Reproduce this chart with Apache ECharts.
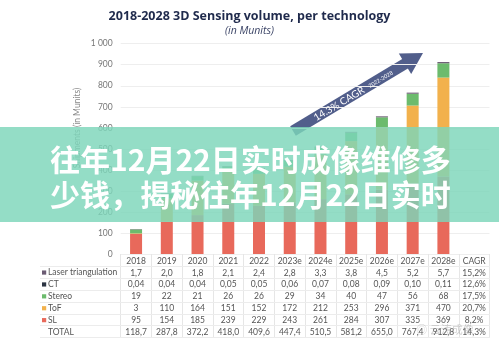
<!DOCTYPE html>
<html><head><meta charset="utf-8">
<script src="https://cdn.jsdelivr.net/npm/echarts@6/dist/echarts.min.js"></script>
<style>html,body{margin:0;padding:0;background:#fff}#c{width:499px;height:351px}</style>
</head><body><div id="c"></div>
<script>
const categories = ['2018','2019','2020','2021','2022','2023e','2024e','2025e','2026e','2027e','2028e','CAGR'];
const laser  = [1.7, 2.0, 1.8, 2.1, 2.4, 2.8, 3.3, 3.8, 4.5, 5.2, 5.7];
const ct     = [0.04, 0.04, 0.04, 0.05, 0.05, 0.06, 0.07, 0.08, 0.09, 0.10, 0.11];
const stereo = [19, 22, 21, 26, 26, 29, 34, 40, 47, 56, 68];
const tof    = [3, 110, 164, 151, 152, 172, 212, 253, 296, 371, 470];
const sl     = [95, 154, 185, 239, 229, 243, 261, 284, 307, 335, 369];
const total  = [118.7, 287.8, 372.2, 418.0, 409.6, 447.4, 510.5, 581.2, 655.0, 767.4, 912.8];
const cagr   = ['15,2%', '12,6%', '17,5%', '20,7%', '8,2%', '14,3%'];
const yTicks = [0, 100, 200, 300, 400, 500, 600, 700, 800, 900, 1000];
const rowNames = ['Laser triangulation', 'CT', 'Stereo', 'ToF', 'SL', 'TOTAL'];
const colors = {SL:'#e8695b', ToF:'#f2b14c', Stereo:'#6cbb6d', CT:'#2c3442', 'Laser triangulation':'#6b5b73'};

const fmt = (v, d) => v.toFixed(d).replace('.', ',');

const chart = echarts.init(document.getElementById('c'));
const FONT = 'Lato';
const mk = (name, data) => ({
  name, type:'bar', stack:'a', data, barWidth:12,
  itemStyle:{color:colors[name]}, emphasis:{disabled:true}
});

const rowTop = 254.5, rowH = 11.9, tLeft = 40, tRight = 490;
const graphics = [];
for (let i = 1; i <= 7; i++) {
  const y = Math.round(rowTop + rowH * i + 0.5) - 0.5;
  graphics.push({type:'line', shape:{x1:tLeft, y1:y, x2:tRight, y2:y}, style:{stroke:'#ececec', lineWidth:1}, silent:true, z:1});
}
rowNames.forEach((n, i) => {
  const cy = rowTop + rowH * (i + 1) + rowH / 2 + 0.3;
  if (colors[n]) graphics.push({type:'rect', shape:{x:42, y:cy-2.2, width:4.2, height:4.2}, style:{fill:colors[n]}, silent:true, z:5});
  graphics.push({type:'text', x:48, y:cy, style:{text:n, fill:'#555', font:'8.5px ' + FONT, textVerticalAlign:'middle'}, silent:true, z:5});
});
graphics.push({type:'text', x:77, y:128, rotation:Math.PI/2, style:{text:'Shipments (in Munits)', fill:'#888', font:'8.5px ' + FONT, textAlign:'center', textVerticalAlign:'middle'}, silent:true, z:5});
const ax = 293, ay = 131, bx = 423, by = 53;
const len = Math.hypot(bx-ax, by-ay), ang = Math.atan2(ay-by, bx-ax);
graphics.push({type:'group', x:ax, y:ay, rotation:ang, z:20, silent:true, children:[
  {type:'rect', shape:{x:0, y:-5.5, width:len-18, height:11}, style:{fill:'#515e8b'}},
  {type:'polygon', shape:{points:[[len-21,-12],[len,0],[len-21,12]]}, style:{fill:'#515e8b'}},
  {type:'text', x:25, y:0.5, style:{text:'14.3% CAGR', fill:'#fff', font:'10px ' + FONT, textVerticalAlign:'middle'}},
  {type:'text', x:88, y:1, style:{text:'2022-2028', fill:'#fff', font:'5.5px ' + FONT, textVerticalAlign:'middle'}}
]});
graphics.push({type:'text', x:445, y:330, style:{text:'\u25CE 云涛成像', fill:'rgba(150,150,150,0.45)', font:'11px "Noto Sans CJK SC"', textAlign:'center', textVerticalAlign:'middle'}, silent:true, z:30});
graphics.push({type:'rect', shape:{x:0, y:127, width:499, height:95}, style:{fill:'rgba(124,214,186,0.82)'}, silent:true, z:50});
graphics.push({type:'text', x:50, y:160, style:{text:'往年12月22日实时成像维修多', fill:'#fff', font:'bold 30px "Noto Sans CJK SC"', textVerticalAlign:'middle'}, silent:true, z:51});
graphics.push({type:'text', x:50, y:195, style:{text:'少钱，揭秘往年12月22日实时', fill:'#fff', font:'bold 30px "Noto Sans CJK SC"', textVerticalAlign:'middle'}, silent:true, z:51});

chart.setOption({
  animation:false,
  backgroundColor:'#fff',
  title:{
    text:'2018-2028 3D Sensing volume, per technology', subtext:'(in Munits)',
    left:'center', top:5, itemGap:3,
    textStyle:{fontFamily:'Open Sans', fontWeight:'bold', fontSize:12.5, color:'#1f2a4c'},
    subtextStyle:{fontFamily:'Open Sans', fontStyle:'italic', fontSize:10.5, color:'#3b4466'}
  },
  grid:{left:120.7, right:9.5, top:43.7, bottom:97},
  xAxis:{
    type:'category', data:categories,
    axisLine:{show:false},
    axisTick:{show:true, length:84, lineStyle:{color:'#e6e6e6'}},
    axisLabel:{
      margin:1, interval:0, fontFamily:FONT,
      formatter:(v, i) => {
        const lines = ['{h|' + v + '}'];
        if (i < 11) {
          lines.push('{v|' + fmt(laser[i],1) + '}', '{v|' + fmt(ct[i],2) + '}', '{v|' + stereo[i] + '}', '{v|' + tof[i] + '}', '{v|' + sl[i] + '}', '{v|' + fmt(total[i],1) + '}');
        } else {
          cagr.forEach(c => lines.push('{v|' + c + '}'));
        }
        return lines.join('\n');
      },
      rich:{
        h:{fontFamily:FONT, fontSize:8.5, color:'#555', lineHeight:rowH},
        v:{fontFamily:FONT, fontSize:8.5, color:'#555', lineHeight:rowH}
      }
    }
  },
  yAxis:{
    type:'value', min:yTicks[0], max:yTicks[yTicks.length-1], interval:100,
    axisLine:{show:false}, axisTick:{show:false},
    splitLine:{lineStyle:{color:'#eeeeee'}},
    axisLabel:{margin:8, fontFamily:FONT, fontSize:8.5, color:'#777', formatter:v => v >= 1000 ? String(v).replace(/(\d)(\d{3})$/, '$1 $2') : String(v)}
  },
  series:[mk('SL', sl), mk('ToF', tof), mk('Stereo', stereo), mk('CT', ct), mk('Laser triangulation', laser)],
  graphic:graphics
});
</script></body></html>
